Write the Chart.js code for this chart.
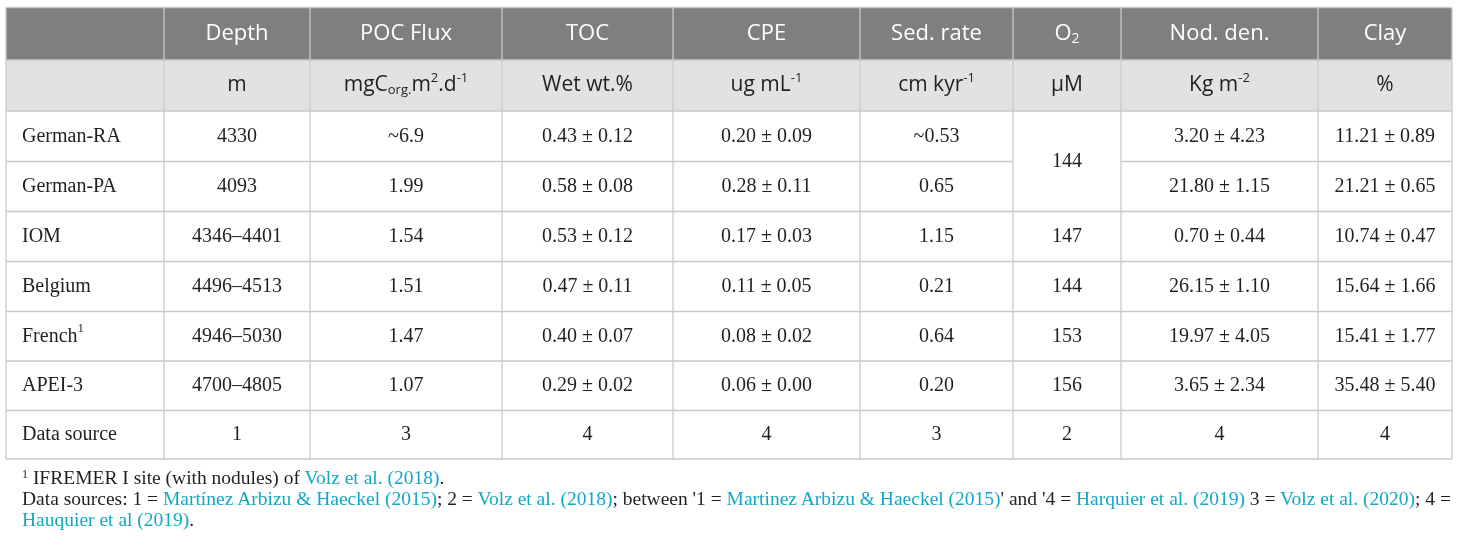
<!DOCTYPE html>
<html>
<head>
<meta charset="utf-8">
<script src="https://cdn.jsdelivr.net/npm/chart.js@4"></script>
<style>
  html, body { margin: 0; padding: 0; background: #fff; }
  #wrap { position: relative; width: 1460px; height: 549px; }
  #notes { position: absolute; left: 22px; top: 467px; font-family: "Liberation Serif", serif;
           font-size: 19.5px; line-height: 21px; color: #231f20; white-space: nowrap; }
  #notes .ln { color: #12a8c4; }
  #notes sup { font-size: 12px; vertical-align: 6px; line-height: 0; }
</style>
</head>
<body>
<div id="wrap">
  <canvas id="tableChart" width="1460" height="549"></canvas>
  <div id="notes">
    <div><sup>1</sup> IFREMER I site (with nodules) of <span class="ln">Volz et al. (2018)</span>.</div>
    <div>Data sources: 1 = <span class="ln">Martínez Arbizu &amp; Haeckel (2015)</span>; 2 = <span class="ln">Volz et al. (2018)</span>; between '1 = <span class="ln">Martinez Arbizu &amp; Haeckel (2015)</span>' and '4 = <span class="ln">Harquier et al. (2019)</span> 3 = <span class="ln">Volz et al. (2020)</span>; 4 =</div>
    <div><span class="ln">Hauquier et al (2019)</span>.</div>
  </div>
</div>
<script>
// table content
const headers = ['', 'Depth', 'POC Flux', 'TOC', 'CPE', 'Sed. rate', 'O_{2}', 'Nod. den.', 'Clay'];
const units = ['', 'm', 'mgC_{org.}m^{2}.d^{-1}', 'Wet wt.%', 'ug mL^{-1}', 'cm kyr^{-1}', 'μM', 'Kg m^{-2}', '%'];
const sites = ['German-RA', 'German-PA', 'IOM', 'Belgium', 'French^{1}', 'APEI-3', 'Data source'];
const depth = ['4330', '4093', '4346–4401', '4496–4513', '4946–5030', '4700–4805', '1'];
const pocFlux = ['~6.9', '1.99', '1.54', '1.51', '1.47', '1.07', '3'];
const toc = ['0.43 ± 0.12', '0.58 ± 0.08', '0.53 ± 0.12', '0.47 ± 0.11', '0.40 ± 0.07', '0.29 ± 0.02', '4'];
const cpe = ['0.20 ± 0.09', '0.28 ± 0.11', '0.17 ± 0.03', '0.11 ± 0.05', '0.08 ± 0.02', '0.06 ± 0.00', '4'];
const sedRate = ['~0.53', '0.65', '1.15', '0.21', '0.64', '0.20', '3'];
const oxygen = ['144', '', '147', '144', '153', '156', '2'];
const nodDen = ['3.20 ± 4.23', '21.80 ± 1.15', '0.70 ± 0.44', '26.15 ± 1.10', '19.97 ± 4.05', '3.65 ± 2.34', '4'];
const clay = ['11.21 ± 0.89', '21.21 ± 0.65', '10.74 ± 0.47', '15.64 ± 1.66', '15.41 ± 1.77', '35.48 ± 5.40', '4'];

const columns = [sites, depth, pocFlux, toc, cpe, sedRate, oxygen, nodDen, clay];

// layout (scale units = px inside the table box)
const colEdges = [0, 158, 304, 496, 667, 854, 1007, 1115, 1312, 1446];
const rowEdges = [0, 52.5, 103.5, 154, 204, 254, 304, 353.5, 403, 451.5];
const merged = [{ col: 6, row: 0, span: 2 }]; // O2 144 covers German-RA and German-PA

const headFill = '#7f7f7f';
const unitFill = '#e2e2e2';
const gridColor = '#c9c9c9';
const textColor = '#231f20';

// draw text with ^{sup} and _{sub} pieces
function parseRich(s) {
  const parts = [];
  const re = /([\^_])\{([^}]*)\}/g;
  let last = 0, m;
  while ((m = re.exec(s)) !== null) {
    if (m.index > last) parts.push({ t: s.slice(last, m.index), mode: '' });
    parts.push({ t: m[2], mode: m[1] === '^' ? 'sup' : 'sub' });
    last = re.lastIndex;
  }
  if (last < s.length) parts.push({ t: s.slice(last), mode: '' });
  return parts;
}

function drawRich(ctx, s, x, y, align, size, family, color) {
  const parts = parseRich(s);
  const small = Math.round(size * 0.64);
  let w = 0;
  parts.forEach(p => {
    ctx.font = (p.mode ? small : size) + 'px ' + family;
    p.w = ctx.measureText(p.t).width;
    w += p.w;
  });
  let cx = align === 'left' ? x : x - w / 2;
  ctx.fillStyle = color;
  ctx.textBaseline = 'middle';
  ctx.textAlign = 'left';
  parts.forEach(p => {
    ctx.font = (p.mode ? small : size) + 'px ' + family;
    let dy = 0;
    if (p.mode === 'sup') dy = -size * 0.36;
    if (p.mode === 'sub') dy = size * 0.24;
    ctx.fillText(p.t, cx, y + dy);
    cx += p.w;
  });
}

function isMergedInner(col, row) {
  return merged.some(m => m.col === col && row > m.row && row < m.row + m.span);
}

const tablePlugin = {
  id: 'tablePlugin',
  afterDraw(chart) {
    const ctx = chart.ctx;
    const xs = chart.scales.x, ys = chart.scales.y;
    const X = v => xs.getPixelForValue(v);
    const Y = v => ys.getPixelForValue(v);
    ctx.save();

    // header bands
    ctx.fillStyle = headFill;
    ctx.fillRect(X(colEdges[0]), Y(rowEdges[0]), X(colEdges[9]) - X(colEdges[0]), Y(rowEdges[1]) - Y(rowEdges[0]));
    ctx.fillStyle = unitFill;
    ctx.fillRect(X(colEdges[0]), Y(rowEdges[1]), X(colEdges[9]) - X(colEdges[0]), Y(rowEdges[2]) - Y(rowEdges[1]));

    // grid lines
    ctx.lineWidth = 1.3;
    ctx.strokeStyle = gridColor;
    colEdges.forEach(c => {
      ctx.beginPath();
      ctx.moveTo(X(c), Y(rowEdges[0]));
      ctx.lineTo(X(c), Y(rowEdges[rowEdges.length - 1]));
      ctx.stroke();
    });
    rowEdges.forEach((r, ri) => {
      for (let ci = 0; ci < colEdges.length - 1; ci++) {
        const dataRow = ri - 2; // boundary above data row index dataRow
        if (dataRow > 0 && isMergedInner(ci, dataRow)) continue;
        ctx.beginPath();
        ctx.moveTo(X(colEdges[ci]), Y(r));
        ctx.lineTo(X(colEdges[ci + 1]), Y(r));
        ctx.stroke();
      }
    });

    const sans = '"Open Sans", sans-serif';
    const serif = '"Liberation Serif", serif';
    // header texts
    for (let ci = 0; ci < headers.length; ci++) {
      const cx = (X(colEdges[ci]) + X(colEdges[ci + 1])) / 2;
      drawRich(ctx, headers[ci], cx, (Y(rowEdges[0]) + Y(rowEdges[1])) / 2, 'center', 22, sans, '#ffffff');
      drawRich(ctx, units[ci], cx, (Y(rowEdges[1]) + Y(rowEdges[2])) / 2, 'center', 21, sans, textColor);
    }
    // body texts
    columns.forEach((col, ci) => {
      col.forEach((txt, ri) => {
        if (!txt) return;
        const m = merged.find(k => k.col === ci && k.row === ri);
        const span = m ? m.span : 1;
        const y = (Y(rowEdges[ri + 2]) + Y(rowEdges[ri + 2 + span])) / 2;
        if (ci === 0) {
          drawRich(ctx, txt, X(colEdges[0]) + 16, y, 'left', 20, serif, textColor);
        } else {
          drawRich(ctx, txt, (X(colEdges[ci]) + X(colEdges[ci + 1])) / 2, y, 'center', 20, serif, textColor);
        }
      });
    });
    ctx.restore();
  }
};

const ctx = document.getElementById('tableChart').getContext('2d');
const tableChart = new Chart(ctx, {
  type: 'scatter',
  data: { datasets: [] },
  options: {
    responsive: false,
    animation: false,
    layout: { padding: { left: 6, top: 7.5, right: 8, bottom: 90 } },
    plugins: { legend: { display: false }, tooltip: { enabled: false } },
    scales: {
      x: { type: 'linear', min: colEdges[0], max: colEdges[colEdges.length - 1], display: false },
      y: { type: 'linear', min: rowEdges[0], max: rowEdges[rowEdges.length - 1], reverse: true, display: false }
    }
  },
  plugins: [tablePlugin]
});
</script>
</body>
</html>
